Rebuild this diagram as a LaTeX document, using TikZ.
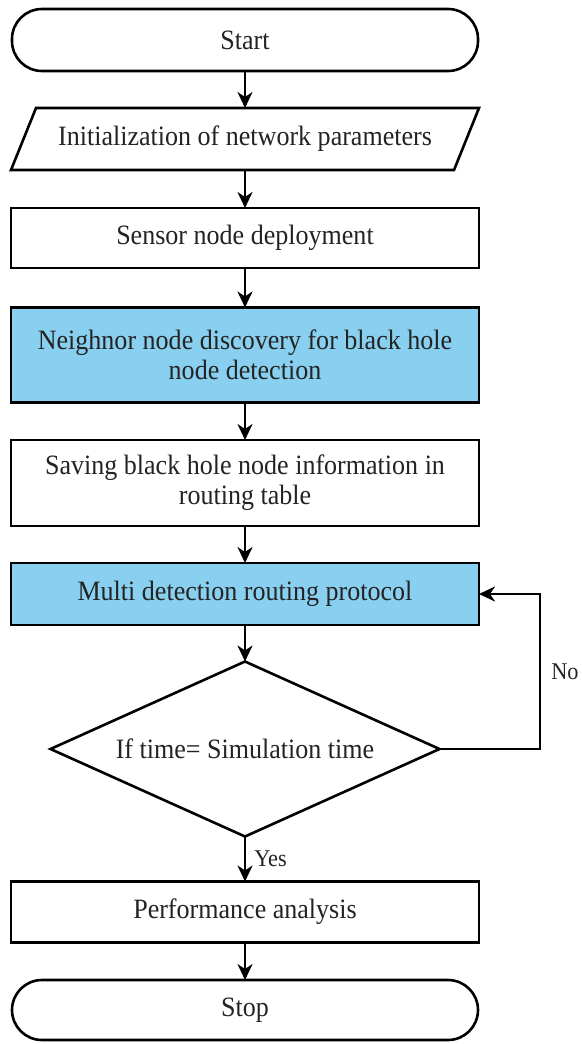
\documentclass[tikz,border=0pt]{standalone}
\usepackage{fontspec}
\setmainfont[FakeStretch=0.93]{Liberation Serif}
\usetikzlibrary{arrows.meta,calc}
\definecolor{boxblue}{RGB}{137,208,240}
\definecolor{txt}{RGB}{35,35,35}
\begin{document}
\begin{tikzpicture}[x=1pt,y=-1pt,
  base/.style={draw=black, line width=2.6pt, text=txt, font=\fontsize{28}{30}\selectfont, align=center, inner sep=0pt, outer sep=0pt},
  proc/.style={base, rectangle, minimum width=468pt, minimum height=#1},
  term/.style={base, rectangle, rounded corners=30pt, minimum width=466pt, minimum height=#1},
  blue/.style={fill=boxblue},
  arr/.style={line width=2.6pt, -{Stealth[length=16pt,width=15pt,inset=5pt]}},
  lbl/.style={text=txt, font=\fontsize{24}{26}\selectfont, inner sep=0pt}]
\useasboundingbox (0,0) rectangle (581,1044);
\node[term=62pt] (start) at (245,40) {Start};
\node[proc=62pt, draw=none] (init) at (245,139) {Initialization of network parameters};
\draw[line width=2.6pt, line join=miter] ([xshift=25pt]init.north west) -- (init.north east) -- ([xshift=-25pt]init.south east) -- (init.south west) -- cycle;
\node[proc=60pt] (deploy) at (245,238) {Sensor node deployment};
\node[proc=95pt, blue] (neigh) at (245,355) {Neighnor node discovery for black hole\\node detection};
\node[proc=86pt] (save) at (245,483) {Saving black hole node information in\\routing table};
\node[proc=62pt, blue] (multi) at (245,594) {Multi detection routing protocol};
\node[base, draw=none, minimum width=389pt, minimum height=175pt] (dec) at (245,749) {If time= Simulation time};
\draw[line width=2.6pt, line join=miter] (dec.north) -- (dec.east) -- (dec.south) -- (dec.west) -- cycle;
\node[proc=61pt] (perf) at (245,912) {Performance analysis};
\node[term=60pt] (stop) at (245,1010) {Stop};
\coordinate (loop) at ($(multi.east)+(61,0)$);
\draw[arr] (start.south) -- (init.north);
\draw[arr] (init.south) -- (deploy.north);
\draw[arr] (deploy.south) -- (neigh.north);
\draw[arr] (neigh.south) -- (save.north);
\draw[arr] (save.south) -- (multi.north);
\draw[arr] (multi.south) -- (dec.north);
\draw[arr] (dec.south) -- node[lbl, right=8pt]{Yes} (perf.north);
\draw[arr] (perf.south) -- (stop.north);
\draw[arr] (dec.east) -| node[lbl, pos=0.75, right=10pt]{No} (loop) -- (multi.east);
\end{tikzpicture}
\end{document}
